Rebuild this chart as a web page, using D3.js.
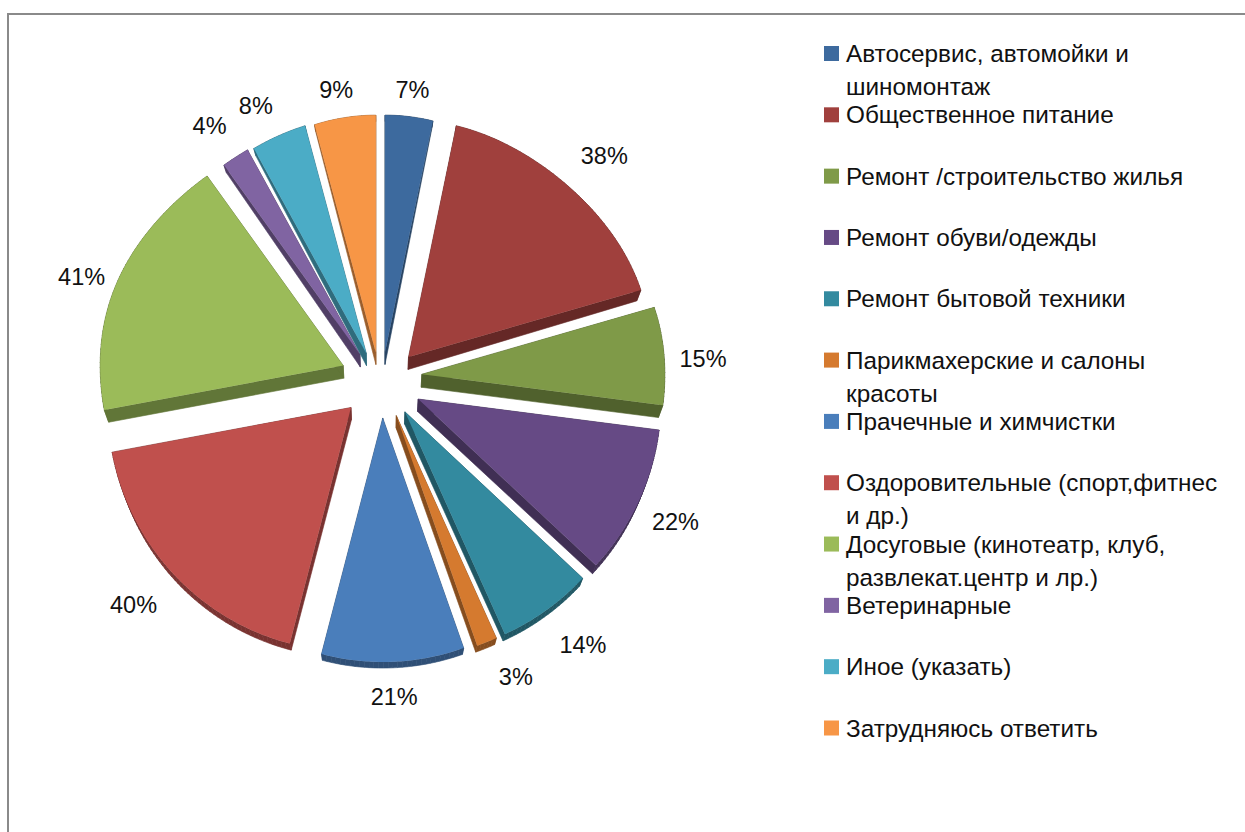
<!DOCTYPE html>
<html>
<head>
<meta charset="utf-8">
<script src="https://cdnjs.cloudflare.com/ajax/libs/d3/7.8.5/d3.min.js"></script>
<style>
    body { margin: 0; background: #fff; }
    svg { display: block; }
    text { font-family: "Liberation Sans", sans-serif; fill: #111; }
</style>
</head>
<body>
<svg id="chart"></svg>
<script>
var categories = [
    ["Автосервис, автомойки и", "шиномонтаж"],
    ["Общественное питание"],
    ["Ремонт /строительство жилья"],
    ["Ремонт обуви/одежды"],
    ["Ремонт бытовой техники"],
    ["Парикмахерские и салоны", "красоты"],
    ["Прачечные и химчистки"],
    ["Оздоровительные (спорт,фитнес", "и др.)"],
    ["Досуговые (кинотеатр, клуб,", "развлекат.центр и лр.)"],
    ["Ветеринарные"],
    ["Иное (указать)"],
    ["Затрудняюсь ответить"]
];
var values = [7, 38, 15, 22, 14, 3, 21, 40, 41, 4, 8, 9];
var colors = ["#3d6a9e", "#a0403d", "#7f9a48", "#664a85", "#338a9f", "#d57a2f",
              "#4a7ebb", "#c0504d", "#9bbb59", "#8064a2", "#4bacc6", "#f79646"];

var width = 1245, height = 832;
var cx = 381, cy = 385;
var rx = 243, ryTop = 237, ryBottom = 244;   // perspective, near edge looks bigger
var ex = 41, ey = 33;                        // explosion distance
var lift = 8;                                // upper slices sit a bit higher
var flatten = 8;                             // upper diagonals look pushed back

var svg = d3.select("#chart").attr("width", width).attr("height", height);

// frame, only top and left are in the crop
svg.append("path")
    .attr("d", "M8," + height + "V14H" + width)
    .attr("fill", "none")
    .attr("stroke", "#8a8a8a")
    .attr("stroke-width", 2);

var pie = d3.pie().sort(null).value(function(d) { return d; });
var slices = pie(values);

function mid(d) { return (d.startAngle + d.endAngle) / 2; }

function apex(d) {
    var a = mid(d);
    var s = Math.sin(a);
    var up = Math.cos(a) > 0 ? lift * s * s : 0;
    return [cx + ex * s, cy - ey * Math.cos(a) - up];
}

// top face corners in page coords
function outline(d) {
    var o = apex(d);
    var pts = [o];
    var n = Math.ceil((d.endAngle - d.startAngle) / 0.02);
    for (var i = 0; i <= n; i++) {
        var a = d.startAngle + (d.endAngle - d.startAngle) * i / n;
        var c = Math.cos(a);
        var back = c > 0 ? flatten * Math.pow(Math.sin(2 * a), 2) : 0;
        pts.push([o[0] + rx * Math.sin(a), o[1] - (c > 0 ? ryTop : ryBottom) * c + back]);
    }
    return pts;
}

// depth shrinks away from the middle of the pie, fake perspective
function lower(p) {
    var y = p[1] - 375;
    var dy = y > 0 ? 13 - 7 * y / 290 : 13 + 5 * y / 200;
    return [p[0] - (p[0] - cx) * 0.016, p[1] + dy];
}

var line = d3.line();

// one quad per edge of the outline
function quads(d, i) {
    var pts = outline(d);
    return pts.map(function(p, j) {
        var q = pts[(j + 1) % pts.length];
        return { path: line([p, q, lower(q), lower(p)]) + "Z", color: d3.color(colors[i]).darker(1.3) };
    });
}

var slice = svg.append("g").selectAll(".slice")
    .data(slices)
    .enter().append("g")
    .attr("class", "slice");

slice.selectAll(".side")
    .data(quads)
    .enter().append("path")
    .attr("class", "side")
    .attr("d", function(q) { return q.path; })
    .attr("fill", function(q) { return q.color; })
    .attr("stroke", function(q) { return q.color; })
    .attr("stroke-width", 0.6);

slice.append("path")
    .attr("class", "top")
    .attr("d", function(d) { return line(outline(d)) + "Z"; })
    .attr("fill", function(d, i) { return colors[i]; });

// value labels, best-fit placement of the original needs a nudge per slice
function labelR(a) { return 303 + 22 * Math.abs(Math.sin(a)) - 8 * Math.cos(a); }
var nudge = [[2, 1], [14, 2], [-1, 1], [-1, -2], [14, -2], [16, -4],
             [0, 0], [-10, -1], [-4, 15], [-14, 5], [-16, 4], [-7, 0]];

svg.append("g").selectAll("text")
    .data(slices)
    .enter().append("text")
    .attr("font-size", 23.5)
    .attr("text-anchor", "middle")
    .attr("dy", ".35em")
    .attr("x", function(d, i) { return cx + labelR(mid(d)) * Math.sin(mid(d)) + nudge[i][0]; })
    .attr("y", function(d, i) { return cy - labelR(mid(d)) * Math.cos(mid(d)) + nudge[i][1]; })
    .text(function(d) { return d.value + "%"; });

// legend
var legendY = d3.scaleLinear().domain([0, 11]).range([53.5, 728]);

var legend = svg.selectAll(".legend")
    .data(categories)
    .enter().append("g")
    .attr("class", "legend")
    .attr("transform", function(d, i) { return "translate(824," + legendY(i) + ")"; });

legend.append("rect")
    .attr("y", -7.5)
    .attr("width", 15)
    .attr("height", 15)
    .style("fill", function(d, i) { return colors[i]; });

legend.selectAll("text")
    .data(function(d) { return d; })
    .enter().append("text")
    .attr("x", 22)
    .attr("y", function(d, i) { return i * 33; })
    .attr("dy", ".35em")
    .attr("font-size", 24.3)
    .text(function(d) { return d; });
</script>
</body>
</html>
